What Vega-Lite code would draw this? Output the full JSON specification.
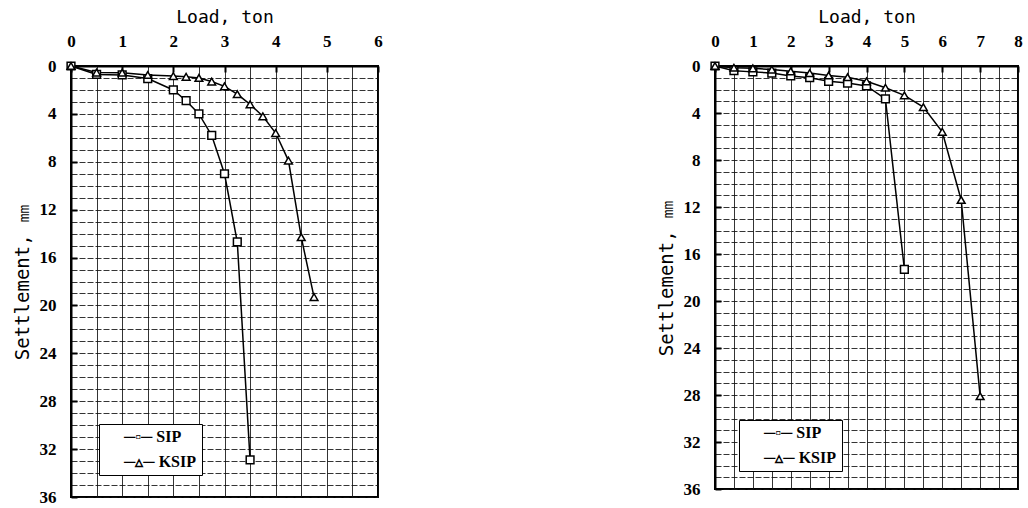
{
  "$schema": "https://vega.github.io/schema/vega-lite/v6.json",
  "padding": {"left": 12, "top": 7, "right": 5, "bottom": 0},
  "background": "white",
  "datasets": {
    "pile": [
      {"panel": "A", "series": "SIP", "load": 0, "settlement": 0},
      {"panel": "A", "series": "SIP", "load": 0.5, "settlement": 0.7},
      {"panel": "A", "series": "SIP", "load": 1, "settlement": 0.75},
      {"panel": "A", "series": "SIP", "load": 1.5, "settlement": 1.05},
      {"panel": "A", "series": "SIP", "load": 2, "settlement": 2.0},
      {"panel": "A", "series": "SIP", "load": 2.25, "settlement": 2.9},
      {"panel": "A", "series": "SIP", "load": 2.5, "settlement": 4.0},
      {"panel": "A", "series": "SIP", "load": 2.75, "settlement": 5.8},
      {"panel": "A", "series": "SIP", "load": 3, "settlement": 9.0},
      {"panel": "A", "series": "SIP", "load": 3.25, "settlement": 14.7},
      {"panel": "A", "series": "SIP", "load": 3.5, "settlement": 32.9},
      {"panel": "A", "series": "KSIP", "load": 0, "settlement": 0},
      {"panel": "A", "series": "KSIP", "load": 0.5, "settlement": 0.55},
      {"panel": "A", "series": "KSIP", "load": 1, "settlement": 0.56},
      {"panel": "A", "series": "KSIP", "load": 1.5, "settlement": 0.75},
      {"panel": "A", "series": "KSIP", "load": 2, "settlement": 0.84},
      {"panel": "A", "series": "KSIP", "load": 2.25, "settlement": 0.9},
      {"panel": "A", "series": "KSIP", "load": 2.5, "settlement": 1.0},
      {"panel": "A", "series": "KSIP", "load": 2.75, "settlement": 1.3},
      {"panel": "A", "series": "KSIP", "load": 3, "settlement": 1.7},
      {"panel": "A", "series": "KSIP", "load": 3.25, "settlement": 2.35},
      {"panel": "A", "series": "KSIP", "load": 3.5, "settlement": 3.2},
      {"panel": "A", "series": "KSIP", "load": 3.75, "settlement": 4.2},
      {"panel": "A", "series": "KSIP", "load": 4, "settlement": 5.6},
      {"panel": "A", "series": "KSIP", "load": 4.25, "settlement": 7.9},
      {"panel": "A", "series": "KSIP", "load": 4.5, "settlement": 14.3},
      {"panel": "A", "series": "KSIP", "load": 4.75, "settlement": 19.3},
      {"panel": "B", "series": "SIP", "load": 0, "settlement": 0},
      {"panel": "B", "series": "SIP", "load": 0.5, "settlement": 0.4},
      {"panel": "B", "series": "SIP", "load": 1, "settlement": 0.5},
      {"panel": "B", "series": "SIP", "load": 1.5, "settlement": 0.6},
      {"panel": "B", "series": "SIP", "load": 2, "settlement": 0.85},
      {"panel": "B", "series": "SIP", "load": 2.5, "settlement": 1.0},
      {"panel": "B", "series": "SIP", "load": 3, "settlement": 1.3},
      {"panel": "B", "series": "SIP", "load": 3.5, "settlement": 1.45},
      {"panel": "B", "series": "SIP", "load": 4, "settlement": 1.7},
      {"panel": "B", "series": "SIP", "load": 4.5, "settlement": 2.8},
      {"panel": "B", "series": "SIP", "load": 5, "settlement": 17.3},
      {"panel": "B", "series": "KSIP", "load": 0, "settlement": 0},
      {"panel": "B", "series": "KSIP", "load": 0.5, "settlement": 0.15},
      {"panel": "B", "series": "KSIP", "load": 1, "settlement": 0.2},
      {"panel": "B", "series": "KSIP", "load": 1.5, "settlement": 0.3},
      {"panel": "B", "series": "KSIP", "load": 2, "settlement": 0.45},
      {"panel": "B", "series": "KSIP", "load": 2.5, "settlement": 0.6},
      {"panel": "B", "series": "KSIP", "load": 3, "settlement": 0.8},
      {"panel": "B", "series": "KSIP", "load": 3.5, "settlement": 0.95},
      {"panel": "B", "series": "KSIP", "load": 4, "settlement": 1.3},
      {"panel": "B", "series": "KSIP", "load": 4.5, "settlement": 1.85},
      {"panel": "B", "series": "KSIP", "load": 5, "settlement": 2.5},
      {"panel": "B", "series": "KSIP", "load": 5.5, "settlement": 3.5},
      {"panel": "B", "series": "KSIP", "load": 6, "settlement": 5.6},
      {"panel": "B", "series": "KSIP", "load": 6.5, "settlement": 11.4},
      {"panel": "B", "series": "KSIP", "load": 7, "settlement": 28.1}
    ]
  },
  "data": {"name": "pile"},
  "spacing": 272,
  "resolve": {"scale": {"x": "independent", "y": "independent", "shape": "independent"}, "legend": {"shape": "independent"}},
  "hconcat": [
    {
      "width": 307,
      "height": 431,
      "transform": [{"filter": "datum.panel === 'A'"}],
      "encoding": {
        "x": {
          "field": "load", "type": "quantitative",
          "scale": {"domain": [0, 6], "nice": false},
          "axis": {
            "orient": "top", "title": "Load, ton",
            "values": [0, 0.5, 1, 1.5, 2, 2.5, 3, 3.5, 4, 4.5, 5, 5.5, 6],
            "labelExpr": "datum.value % 1 === 0 ? '' + datum.value : ''",
            "tickOpacity": {"condition": {"test": "datum.value % 1 === 0", "value": 1}, "value": 0}
          }
        },
        "y": {
          "field": "settlement", "type": "quantitative",
          "scale": {"domain": [0, 36], "nice": false, "reverse": true},
          "axis": {
            "title": "Settlement, ㎜",
            "values": [0,1,2,3,4,5,6,7,8,9,10,11,12,13,14,15,16,17,18,19,20,21,22,23,24,25,26,27,28,29,30,31,32,33,34,35,36],
            "labelExpr": "datum.value % 4 === 0 ? '' + datum.value : ''",
            "tickOpacity": {"condition": {"test": "datum.value % 4 === 0", "value": 1}, "value": 0}
          }
        }
      },
      "layer": [
        {"mark": {"type": "line", "color": "black", "strokeWidth": 1.5}, "encoding": {"detail": {"field": "series"}}},
        {
          "transform": [{"filter": "datum.series === 'SIP'"}],
          "mark": {"type": "point", "shape": "square", "filled": false, "fill": "white", "fillOpacity": 1, "stroke": "black", "strokeWidth": 1.5, "size": 60, "opacity": 1}
        },
        {
          "transform": [{"filter": "datum.series === 'KSIP'"}],
          "mark": {"type": "point", "shape": "triangle-up", "filled": false, "fill": "white", "fillOpacity": 1, "stroke": "black", "strokeWidth": 1.5, "size": 60, "opacity": 1}
        },
        {
          "transform": [{"filter": "datum.load < 0"}],
          "mark": {"type": "point", "filled": false, "stroke": "black", "opacity": 0},
          "encoding": {
            "shape": {
              "field": "series", "type": "nominal",
              "scale": {"domain": ["SIP", "KSIP"]},
              "legend": {
                "orient": "none", "legendX": 28, "legendY": 358, "title": null,
                "strokeColor": "black", "fillColor": "white", "padding": 5,
                "symbolSize": 0, "symbolOpacity": 0, "labelOffset": 4, "rowPadding": 9,
                "labelExpr": "datum.value === 'SIP' ? '─▫─ SIP' : '─▵─ KSIP'",
                "labelFont": "Liberation Serif", "labelFontSize": 16, "labelFontWeight": "bold", "labelColor": "black", "labelLimit": 0
              }
            }
          }
        }
      ]
    },
    {
      "width": 303,
      "height": 423,
      "transform": [{"filter": "datum.panel === 'B'"}],
      "encoding": {
        "x": {
          "field": "load", "type": "quantitative",
          "scale": {"domain": [0, 8], "nice": false},
          "axis": {
            "orient": "top", "title": "Load, ton",
            "values": [0, 0.5, 1, 1.5, 2, 2.5, 3, 3.5, 4, 4.5, 5, 5.5, 6, 6.5, 7, 7.5, 8],
            "labelExpr": "datum.value % 1 === 0 ? '' + datum.value : ''",
            "tickOpacity": {"condition": {"test": "datum.value % 1 === 0", "value": 1}, "value": 0}
          }
        },
        "y": {
          "field": "settlement", "type": "quantitative",
          "scale": {"domain": [0, 36], "nice": false, "reverse": true},
          "axis": {
            "title": "Settlement, ㎜",
            "values": [0,1,2,3,4,5,6,7,8,9,10,11,12,13,14,15,16,17,18,19,20,21,22,23,24,25,26,27,28,29,30,31,32,33,34,35,36],
            "labelExpr": "datum.value % 4 === 0 ? '' + datum.value : ''",
            "tickOpacity": {"condition": {"test": "datum.value % 4 === 0", "value": 1}, "value": 0}
          }
        }
      },
      "layer": [
        {"mark": {"type": "line", "color": "black", "strokeWidth": 1.5}, "encoding": {"detail": {"field": "series"}}},
        {
          "transform": [{"filter": "datum.series === 'SIP'"}],
          "mark": {"type": "point", "shape": "square", "filled": false, "fill": "white", "fillOpacity": 1, "stroke": "black", "strokeWidth": 1.5, "size": 60, "opacity": 1}
        },
        {
          "transform": [{"filter": "datum.series === 'KSIP'"}],
          "mark": {"type": "point", "shape": "triangle-up", "filled": false, "fill": "white", "fillOpacity": 1, "stroke": "black", "strokeWidth": 1.5, "size": 60, "opacity": 1}
        },
        {
          "transform": [{"filter": "datum.load < 0"}],
          "mark": {"type": "point", "filled": false, "stroke": "black", "opacity": 0},
          "encoding": {
            "shape": {
              "field": "series", "type": "nominal",
              "scale": {"domain": ["SIP", "KSIP"]},
              "legend": {
                "orient": "none", "legendX": 24, "legendY": 354, "title": null,
                "strokeColor": "black", "fillColor": "white", "padding": 5,
                "symbolSize": 0, "symbolOpacity": 0, "labelOffset": 4, "rowPadding": 9,
                "labelExpr": "datum.value === 'SIP' ? '─▫─ SIP' : '─▵─ KSIP'",
                "labelFont": "Liberation Serif", "labelFontSize": 16, "labelFontWeight": "bold", "labelColor": "black", "labelLimit": 0
              }
            }
          }
        }
      ]
    }
  ],
  "config": {
    "view": {"stroke": "black", "strokeWidth": 2},
    "axis": {
      "domainColor": "black", "domainWidth": 2,
      "grid": true, "gridColor": "#111111", "gridWidth": 1, "gridOpacity": 0.85,
      "ticks": true, "tickSize": -6, "tickWidth": 2, "tickColor": "black",
      "labelFont": "Liberation Serif", "labelFontSize": 17, "labelFontWeight": "bold", "labelColor": "black",
      "titleFont": "DejaVu Sans Mono", "titleFontWeight": "normal", "titleColor": "black",
      "labelFlush": false, "labelOverlap": false
    },
    "axisX": {"labelPadding": 22, "titleFontSize": 18, "titlePadding": 6},
    "axisY": {"labelPadding": 21, "titleFontSize": 19, "titlePadding": 7, "gridDash": [6, 2]}
  }
}
